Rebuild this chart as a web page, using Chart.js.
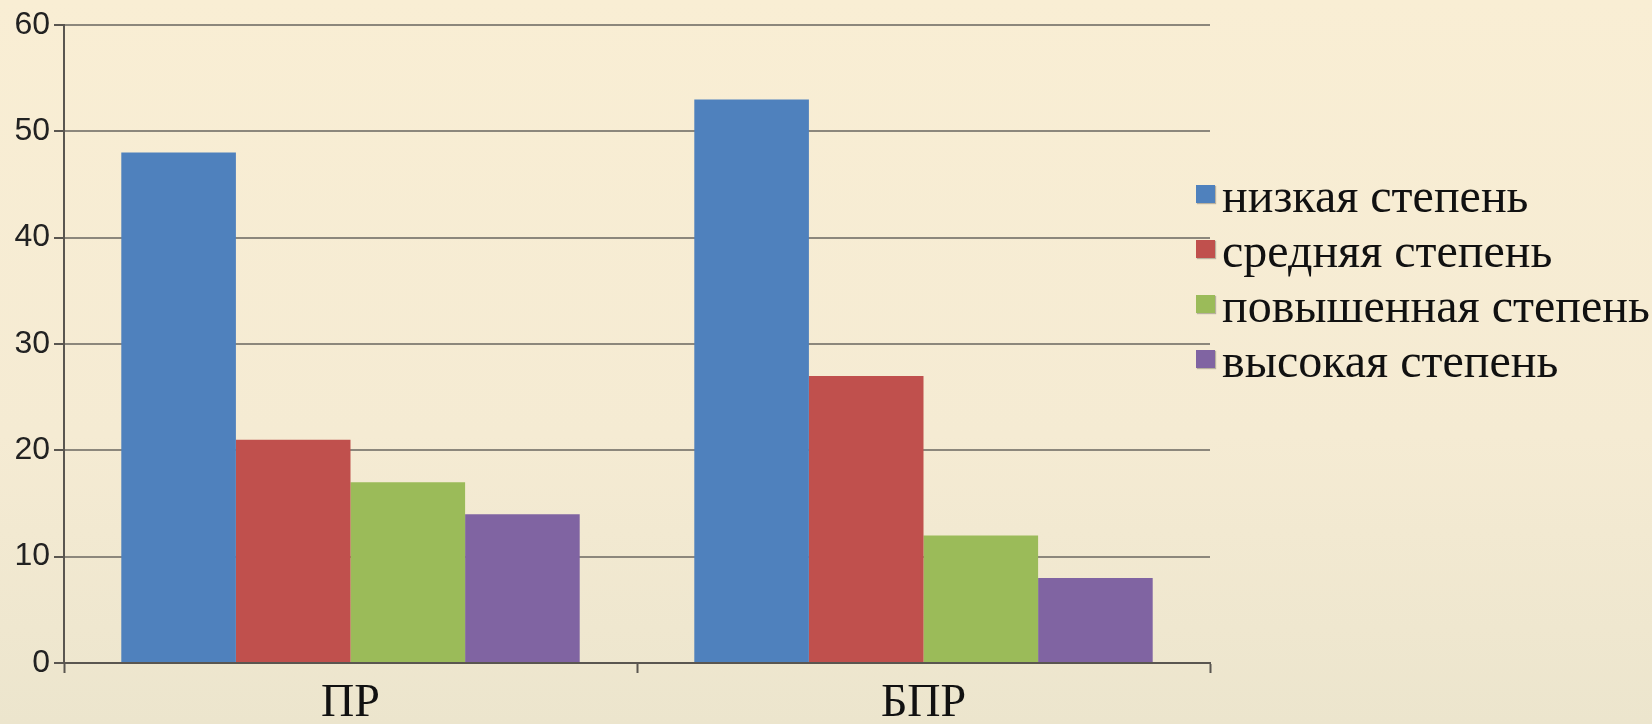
<!DOCTYPE html>
<html><head><meta charset="utf-8">
<script src="https://cdn.jsdelivr.net/npm/chart.js@4"></script>
<style>
html,body{margin:0;padding:0;}
body{width:1652px;height:724px;position:relative;overflow:hidden;background:linear-gradient(to bottom,#F9EED4 0%,#F5EBD3 60%,#ECE5CD 100%);}
#wrap{position:absolute;left:0;top:0;width:1652px;height:724px;}
#legend{position:absolute;left:1196px;top:172px;font-family:"Liberation Serif",serif;font-size:48px;color:#111;}
.row{position:absolute;left:0;white-space:nowrap;height:48px;}
.sw{position:absolute;left:0;width:19px;height:18px;box-shadow:1px 1px 1px rgba(0,0,0,0.25);}
.tx{position:absolute;left:26px;top:0;line-height:48px;}
</style></head><body>
<div id="wrap"><canvas id="c" width="1652" height="724"></canvas></div>
<div id="legend"></div>
<script>
const categories = ["ПР", "БПР"];
const seriesNames = ["низкая степень", "средняя степень", "повышенная степень", "высокая степень"];
const nizkaya = [48, 53];
const srednyaya = [21, 27];
const povyshennaya = [17, 12];
const vysokaya = [14, 8];
const yTicks = [0, 10, 20, 30, 40, 50, 60];
const colors = ["#4F81BD", "#C0504D", "#9BBB59", "#8064A2"];

const seriesValues = [nizkaya, srednyaya, povyshennaya, vysokaya];
const datasets = seriesNames.map((n, i) => ({
  label: n,
  data: seriesValues[i],
  backgroundColor: colors[i],
  borderWidth: 0,
  categoryPercentage: 0.8,
  barPercentage: 1.0
}));

new Chart(document.getElementById("c"), {
  type: "bar",
  data: { labels: categories, datasets },
  options: {
    responsive: false,
    animation: false,
    layout: { padding: { left: 0, right: 442, top: 25, bottom: 0 } },
    plugins: { legend: { display: false }, tooltip: { enabled: false } },
    scales: {
      y: {
        min: 0, max: 60,
        afterFit: s => { s.width = 64; },
        afterBuildTicks: s => { s.ticks = yTicks.map(v => ({ value: v })); },
        border: { display: true, color: "#5a5650", width: 2 },
        grid: { color: "#8c877c", lineWidth: 2, drawTicks: true, tickLength: 10, tickColor: "#5a5650", tickWidth: 2 },
        ticks: { font: { family: "Liberation Sans", size: 32 }, color: "#222", padding: 4 }
      },
      x: {
        afterFit: s => { s.height = 61; },
        border: { display: true, color: "#5a5650", width: 2 },
        grid: { offset: true, drawOnChartArea: false, drawTicks: true, tickLength: 10, tickColor: "#5a5650", tickWidth: 2 },
        ticks: { font: { family: "Liberation Serif", size: 46 }, color: "#111", padding: 3 }
      }
    }
  }
});

const lg = document.getElementById("legend");
seriesNames.forEach((n, i) => {
  const r = document.createElement("div");
  r.className = "row";
  r.style.top = (i * 55) + "px";
  r.innerHTML = '<span class="sw" style="background:' + colors[i] + ';top:13px"></span><span class="tx">' + n + '</span>';
  lg.appendChild(r);
});
</script>
</body></html>
